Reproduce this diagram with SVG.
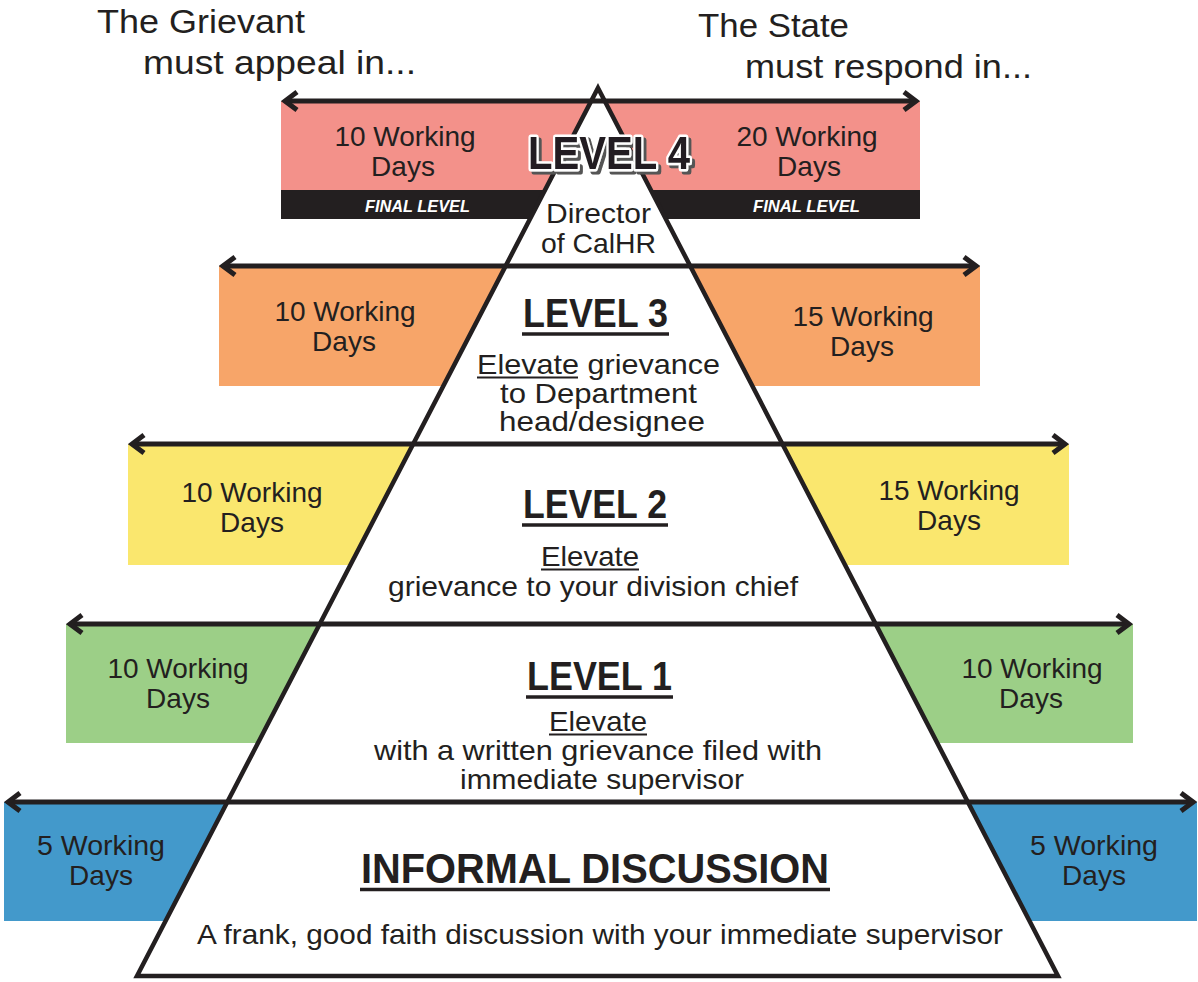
<svg xmlns="http://www.w3.org/2000/svg" width="1198" height="982" viewBox="0 0 1198 982">
<defs>
<marker id="arr" markerUnits="userSpaceOnUse" markerWidth="24" markerHeight="24" viewBox="0 0 24 24" refX="20" refY="12" orient="auto-start-reverse">
<path d="M8,3 L20,12 L8,21" fill="none" stroke="#231F20" stroke-width="5"/>
</marker>
<filter id="sh" x="-10%" y="-20%" width="130%" height="150%">
<feDropShadow dx="3" dy="3" stdDeviation="0.6" flood-color="#555" flood-opacity="1"/>
</filter>
<style>
text{font-family:"Liberation Sans",Arial,sans-serif;fill:#231F20}
.hd{font-size:33px}
.bd{font-size:28px;text-anchor:middle}
.tx{font-size:28px}
.ti{font-family:"Liberation Sans Narrow","Liberation Sans",Arial,sans-serif;font-weight:bold;font-size:41px}
.fin{font-size:17px;font-weight:bold;font-style:italic;fill:#fff}
.ar{stroke:#231F20;stroke-width:5;fill:none;marker-start:url(#arr);marker-end:url(#arr)}
.ul{stroke:#231F20;fill:none}
</style>
</defs>
<rect width="1198" height="982" fill="#fff"/>

<g id="header">
<text class="hd" x="97" y="33" textLength="208" lengthAdjust="spacingAndGlyphs">The Grievant</text>
<text class="hd" x="143" y="74" textLength="273" lengthAdjust="spacingAndGlyphs">must appeal in...</text>
<text class="hd" x="698" y="37" textLength="151" lengthAdjust="spacingAndGlyphs">The State</text>
<text class="hd" x="745" y="78" textLength="287" lengthAdjust="spacingAndGlyphs">must respond in...</text>
</g>

<g id="bands">
<rect x="281" y="101" width="639" height="90" fill="#F3918A"/>
<rect x="281" y="190" width="639" height="29" fill="#231F20"/>
<rect x="219" y="266" width="761" height="120" fill="#F7A569"/>
<rect x="128" y="444" width="941" height="121" fill="#FAE76E"/>
<rect x="66" y="624" width="1067" height="119" fill="#9CCF87"/>
<rect x="4" y="802" width="1193" height="119" fill="#4399CB"/>
</g>

<g id="pyramid">
<polygon points="598,88 1058,976 137,976" fill="#fff" stroke="#231F20" stroke-width="4.5" stroke-linejoin="miter"/>
</g>

<g id="connectors">
<line class="ar" x1="285" y1="101" x2="916" y2="101"/>
<line class="ar" x1="223" y1="266" x2="976" y2="266"/>
<line class="ar" x1="132" y1="444" x2="1065" y2="444"/>
<line class="ar" x1="70" y1="624" x2="1129" y2="624"/>
<line class="ar" x1="8" y1="802" x2="1193" y2="802"/>
</g>

<g id="level4">
<text class="bd" x="405" y="146">10 Working</text>
<text class="bd" x="403" y="176">Days</text>
<text class="bd" x="807" y="146">20 Working</text>
<text class="bd" x="809" y="176">Days</text>
<text class="fin" x="365" y="212" textLength="105" lengthAdjust="spacingAndGlyphs">FINAL LEVEL</text>
<text class="fin" x="753" y="212" textLength="107" lengthAdjust="spacingAndGlyphs">FINAL LEVEL</text>
<text class="ti" x="528" y="169" textLength="162" lengthAdjust="spacingAndGlyphs" filter="url(#sh)" style="font-size:46px;fill:#231F20;stroke:#fff;stroke-width:5;stroke-linejoin:round;paint-order:stroke">LEVEL 4</text>
<text class="tx" x="546" y="223" textLength="105" lengthAdjust="spacingAndGlyphs">Director</text>
<text class="tx" x="541" y="253" textLength="115" lengthAdjust="spacingAndGlyphs">of CalHR</text>
</g>

<g id="level3">
<text class="bd" x="345" y="321">10 Working</text>
<text class="bd" x="344" y="351">Days</text>
<text class="bd" x="863" y="326">15 Working</text>
<text class="bd" x="862" y="356">Days</text>
<text class="ti" x="523" y="327" textLength="145" lengthAdjust="spacingAndGlyphs">LEVEL 3</text>
<line class="ul" x1="522" y1="334" x2="669" y2="334" stroke-width="3.5"/>
<text class="tx" x="477" y="374" textLength="243" lengthAdjust="spacingAndGlyphs">Elevate grievance</text>
<line class="ul" x1="477" y1="377.5" x2="578" y2="377.5" stroke-width="1.8"/>
<text class="tx" x="500" y="403" textLength="197" lengthAdjust="spacingAndGlyphs">to Department</text>
<text class="tx" x="499" y="431" textLength="206" lengthAdjust="spacingAndGlyphs">head/designee</text>
</g>

<g id="level2">
<text class="bd" x="252" y="502">10 Working</text>
<text class="bd" x="252" y="532">Days</text>
<text class="bd" x="949" y="500">15 Working</text>
<text class="bd" x="949" y="530">Days</text>
<text class="ti" x="523" y="518" textLength="144" lengthAdjust="spacingAndGlyphs">LEVEL 2</text>
<line class="ul" x1="522" y1="525" x2="668" y2="525" stroke-width="3.5"/>
<text class="tx" x="541" y="566" textLength="98" lengthAdjust="spacingAndGlyphs">Elevate</text>
<line class="ul" x1="541" y1="569.5" x2="639" y2="569.5" stroke-width="1.8"/>
<text class="tx" x="388" y="596" textLength="410" lengthAdjust="spacingAndGlyphs">grievance to your division chief</text>
</g>

<g id="level1">
<text class="bd" x="178" y="678">10 Working</text>
<text class="bd" x="178" y="708">Days</text>
<text class="bd" x="1032" y="678">10 Working</text>
<text class="bd" x="1031" y="708">Days</text>
<text class="ti" x="527" y="690" textLength="145" lengthAdjust="spacingAndGlyphs">LEVEL 1</text>
<line class="ul" x1="526" y1="697" x2="673" y2="697" stroke-width="3.5"/>
<text class="tx" x="549" y="731" textLength="98" lengthAdjust="spacingAndGlyphs">Elevate</text>
<line class="ul" x1="549" y1="734.5" x2="647" y2="734.5" stroke-width="1.8"/>
<text class="tx" x="374" y="760" textLength="448" lengthAdjust="spacingAndGlyphs">with a written grievance filed with</text>
<text class="tx" x="460" y="789" textLength="284" lengthAdjust="spacingAndGlyphs">immediate supervisor</text>
</g>

<g id="informal">
<text class="bd" x="101" y="855" textLength="128" lengthAdjust="spacingAndGlyphs">5 Working</text>
<text class="bd" x="101" y="885">Days</text>
<text class="bd" x="1094" y="855" textLength="128" lengthAdjust="spacingAndGlyphs">5 Working</text>
<text class="bd" x="1094" y="885">Days</text>
<text class="ti" x="361" y="883" textLength="468" lengthAdjust="spacingAndGlyphs" style="font-size:42px">INFORMAL DISCUSSION</text>
<line class="ul" x1="360" y1="889.5" x2="830" y2="889.5" stroke-width="3.5"/>
<text class="tx" x="197" y="944" textLength="806" lengthAdjust="spacingAndGlyphs">A frank, good faith discussion with your immediate supervisor</text>
</g>
</svg>
